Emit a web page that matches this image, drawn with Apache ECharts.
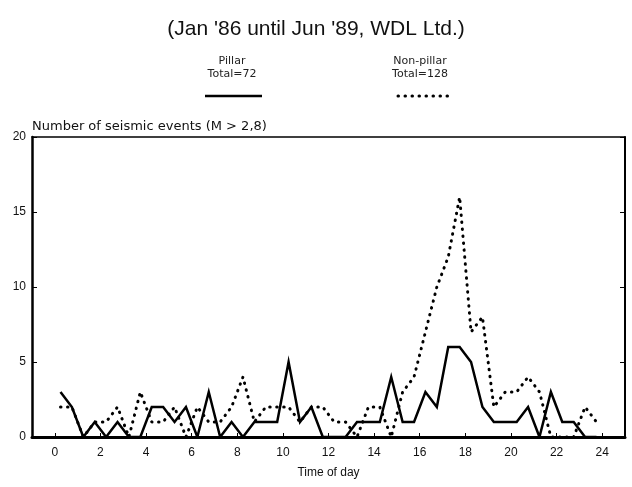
<!DOCTYPE html>
<html>
<head>
<meta charset="utf-8">
<script src="https://cdn.jsdelivr.net/npm/echarts@6/dist/echarts.min.js"></script>
<style>
html, body { margin: 0; padding: 0; background: #fff; }
#chart { width: 632px; height: 487px; }
</style>
</head>
<body>
<div id="chart"></div>
<script>
// time of day (middle of each half hour bin)
const timeOfDay = [0.25, 0.75, 1.25, 1.75, 2.25, 2.75, 3.25, 3.75, 4.25, 4.75, 5.25, 5.75,
    6.25, 6.75, 7.25, 7.75, 8.25, 8.75, 9.25, 9.75, 10.25, 10.75, 11.25, 11.75,
    12.25, 12.75, 13.25, 13.75, 14.25, 14.75, 15.25, 15.75, 16.25, 16.75, 17.25, 17.75,
    18.25, 18.75, 19.25, 19.75, 20.25, 20.75, 21.25, 21.75, 22.25, 22.75, 23.25, 23.75]
// Pillar, total 72
const pillar = [3, 2, 0, 1, 0, 1, 0, 0, 2, 2, 1, 2,
    0, 3, 0, 1, 0, 1, 1, 1, 5, 1, 2, 0,
    0, 0, 1, 1, 1, 4, 1, 1, 3, 2, 6, 6,
    5, 2, 1, 1, 1, 2, 0, 3, 1, 1, 0, 0]
// Non-pillar, total 128
const nonPillar = [2, 2, 0, 1, 1, 2, 0, 3, 1, 1, 2, 0,
    2, 1, 1, 2, 4, 1, 2, 2, 2, 1, 2, 2,
    1, 1, 0, 2, 2, 0, 3, 4, 7, 10, 12, 16,
    7, 8, 2, 3, 3, 4, 3, 0, 0, 0, 2, 1]
const xTicks = [0, 2, 4, 6, 8, 10, 12, 14, 16, 18, 20, 22, 24]
const yTicks = [0, 5, 10, 15, 20]

const font = 'Liberation Sans'
const smallFont = 'DejaVu Sans'
var myChart = echarts.init(document.getElementById('chart'));
let option = {
    animation: false,
    title: {
        text: "(Jan '86 until Jun '89, WDL Ltd.)",
        left: 'center',
        top: 14,
        textStyle: { fontFamily: font, fontSize: 21, fontWeight: 'normal', color: '#111' }
    },
    graphic: [
        // legend: Pillar
        { type: 'text', x: 232, y: 61, style: { text: 'Pillar', font: '11px ' + smallFont, fill: '#222', align: 'center', verticalAlign: 'middle' } },
        { type: 'text', x: 232, y: 74, style: { text: 'Total=72', font: '11px ' + smallFont, fill: '#222', align: 'center', verticalAlign: 'middle' } },
        { type: 'line', shape: { x1: 205, y1: 96, x2: 262, y2: 96 }, style: { stroke: '#000', lineWidth: 2.5 } },
        // legend: Non-pillar
        { type: 'text', x: 420, y: 61, style: { text: 'Non-pillar', font: '11px ' + smallFont, fill: '#222', align: 'center', verticalAlign: 'middle' } },
        { type: 'text', x: 420, y: 74, style: { text: 'Total=128', font: '11px ' + smallFont, fill: '#222', align: 'center', verticalAlign: 'middle' } },
        { type: 'line', shape: { x1: 398, y1: 96, x2: 448, y2: 96 }, style: { stroke: '#000', lineWidth: 3, lineDash: [0.5, 6.5], lineCap: 'round' } }
    ],
    grid: { left: 32, right: 7, top: 137, bottom: 50 },
    xAxis: [
        {
            type: 'value', min: -1, max: 25, position: 'bottom',
            name: 'Time of day', nameLocation: 'middle', nameGap: 30,
            nameTextStyle: { fontFamily: font, fontSize: 12, color: '#111' },
            axisLine: { onZero: false, lineStyle: { color: '#000', width: 3 } },
            axisTick: { inside: true, length: 4, customValues: xTicks, lineStyle: { color: '#000', width: 1 } },
            axisLabel: { customValues: xTicks, fontFamily: font, fontSize: 12, color: '#111', margin: 10 },
            splitLine: { show: false }
        },
        {
            type: 'value', min: -1, max: 25, position: 'top',
            axisLine: { onZero: false, lineStyle: { color: '#000', width: 1.5 } },
            axisTick: { show: false }, axisLabel: { show: false }, splitLine: { show: false }
        }
    ],
    yAxis: [
        {
            type: 'value', min: 0, max: 20, interval: 5, position: 'left',
            name: 'Number of seismic events (M > 2,8)', nameLocation: 'end', nameGap: 4,
            nameTextStyle: { fontFamily: smallFont, fontSize: 13, color: '#111', align: 'left' },
            axisLine: { show: true, onZero: false, lineStyle: { color: '#000', width: 2.5 } },
            axisTick: { show: true, inside: true, length: 5, lineStyle: { color: '#000', width: 1 } },
            axisLabel: { customValues: yTicks, fontFamily: font, fontSize: 12, color: '#111', margin: 6 },
            splitLine: { show: false }
        },
        {
            type: 'value', min: 0, max: 20, interval: 5, position: 'right',
            axisLine: { show: true, onZero: false, lineStyle: { color: '#000', width: 2 } },
            axisTick: { show: true, inside: true, length: 5, lineStyle: { color: '#000', width: 1 } },
            axisLabel: { show: false }, splitLine: { show: false }
        }
    ],
    series: [
        {
            name: 'Pillar', type: 'line', symbol: 'none',
            data: timeOfDay.map((t, i) => [t, pillar[i]]),
            lineStyle: { color: '#000', width: 2.5, join: 'miter' },
            z: 3
        },
        {
            name: 'Non-pillar', type: 'line', symbol: 'none',
            data: timeOfDay.map((t, i) => [t, nonPillar[i]]),
            lineStyle: { color: '#000', width: 3, type: [0.5, 6.5], cap: 'round' },
            z: 2
        }
    ]
}
myChart.setOption(option);
</script>
</body>
</html>
